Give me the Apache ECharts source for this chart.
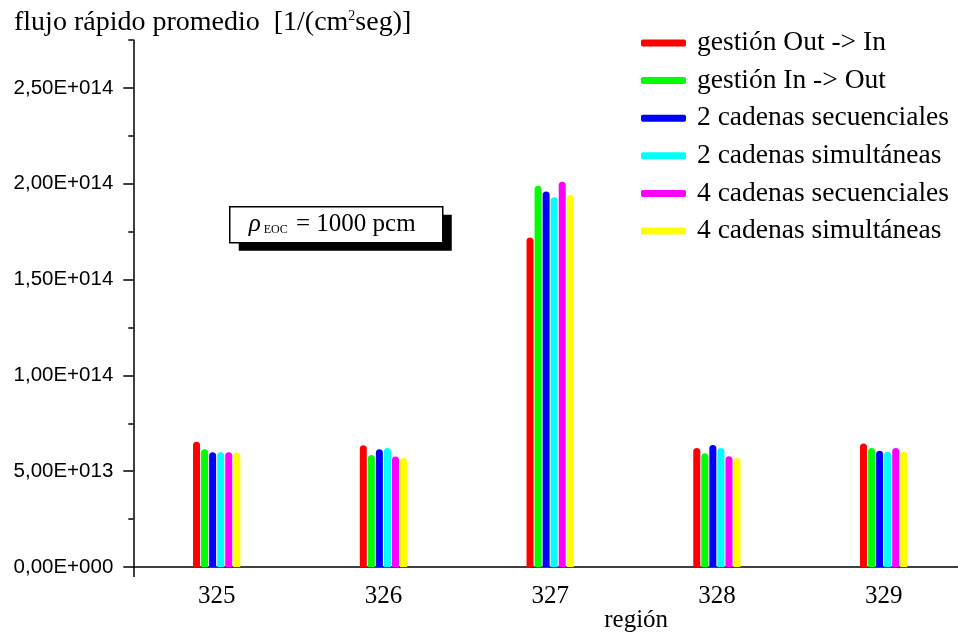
<!DOCTYPE html>
<html>
<head>
<meta charset="utf-8">
<script src="https://cdn.jsdelivr.net/npm/echarts@6/dist/echarts.min.js"></script>
<style>
html,body{margin:0;padding:0;background:#fff;}
#chart{width:958px;height:632px;}
</style>
</head>
<body>
<div id="chart"></div>
<script>
const categories = ['325', '326', '327', '328', '329'];
const seriesNames = ['gestión Out -> In', 'gestión In -> Out', '2 cadenas secuenciales', '2 cadenas simultáneas', '4 cadenas secuenciales', '4 cadenas simultáneas'];
const outIn    = [6.54e13, 6.35e13, 1.72e14, 6.21e13, 6.44e13];
const inOut    = [6.15e13, 5.85e13, 1.99e14, 5.94e13, 6.21e13];
const sec2     = [5.99e13, 6.15e13, 1.96e14, 6.37e13, 6.07e13];
const sim2     = [5.99e13, 6.21e13, 1.93e14, 6.21e13, 6.01e13];
const sec4     = [5.99e13, 5.76e13, 2.01e14, 5.78e13, 6.21e13];
const sim4     = [5.97e13, 5.69e13, 1.94e14, 5.69e13, 6.01e13];
const colors = ['#ff0000', '#00ff00', '#0000ff', '#00ffff', '#ff00ff', '#ffff00'];
const allValues = [outIn, inOut, sec2, sim2, sec4, sim4];
const yTickValues = [0, 5e13, 1e14, 1.5e14, 2e14, 2.5e14];
const yMinorTickValues = [2.5e13, 7.5e13, 1.25e14, 1.75e14, 2.25e14, 2.75e14];

function fmt(v) {
  if (v === 0) return '0,00E+000';
  const e = Math.floor(Math.log10(Math.abs(v)) + 1e-9);
  const m = v / Math.pow(10, e);
  return m.toFixed(2).replace('.', ',') + 'E+' + String(e).padStart(3, '0');
}

const chart = echarts.init(document.getElementById('chart'), null, {renderer: 'canvas'});
const serif = '"Liberation Serif", "Times New Roman", serif';
const sans = '"Liberation Sans", Arial, sans-serif';

const option = {
  backgroundColor: '#fff',
  animation: false,
  title: {
    text: '{t|flujo rápido promedio  [1/(cm}{s|2}{t|seg)]}',
    left: 9, top: 4,
    textStyle: {
      fontWeight: 'normal',
      rich: {
        t: {fontFamily: serif, fontSize: 28, fontWeight: 'normal', color: '#000'},
        s: {fontFamily: serif, fontSize: 14, fontWeight: 'normal', color: '#000', padding: [0, 0, 14, 0]}
      }
    }
  },
  legend: {
    orient: 'vertical',
    left: 636, top: 24,
    itemWidth: 45, itemHeight: 7,
    itemGap: 9.6,
    icon: 'roundRect',
    textStyle: {fontFamily: serif, fontSize: 27.5, color: '#000', lineHeight: 28, padding: [0, 0, 0, 6]},
    data: seriesNames
  },
  grid: {left: 133.3, top: 40, right: -9, bottom: 65, containLabel: false, outerBoundsMode: 'none'},
  xAxis: [{
    type: 'category',
    data: categories,
    boundaryGap: true,
    axisLine: {lineStyle: {color: '#000', width: 1.5}},
    axisTick: {alignWithLabel: true, length: 10, inside: false, lineStyle: {color: '#000', width: 1.5}},
    axisLabel: {fontFamily: serif, fontSize: 25, color: '#000', margin: 17},
    splitLine: {show: false},
    name: 'región',
    nameLocation: 'middle',
    nameGap: 41,
    nameMoveOverlap: false,
    nameTextStyle: {fontFamily: serif, fontSize: 25, color: '#000', padding: [0, 0, 0, 172]}
  }, {
    type: 'category',
    data: categories,
    position: 'bottom',
    boundaryGap: true,
    axisLine: {show: false},
    axisTick: {show: true, alignWithLabel: false, length: 10, interval: function (idx) { return idx === 0; }, lineStyle: {color: '#000', width: 1.5}},
    axisLabel: {show: false},
    splitLine: {show: false}
  }],
  yAxis: [{
    type: 'value',
    min: 0, max: 2.75e14, interval: 5e13,
    axisLine: {show: true, lineStyle: {color: '#000', width: 1.5}},
    axisTick: {show: true, length: 10, lineStyle: {color: '#000', width: 1.5}, customValues: yTickValues},
    axisLabel: {fontFamily: sans, fontSize: 20.5, color: '#000', margin: 20, formatter: fmt, customValues: yTickValues},
    splitLine: {show: false}
  }, {
    type: 'value',
    position: 'left',
    min: 0, max: 2.75e14, interval: 2.5e13,
    axisLine: {show: false},
    axisTick: {show: true, length: 5, lineStyle: {color: '#000', width: 1.5}, customValues: yMinorTickValues},
    axisLabel: {show: false},
    splitLine: {show: false}
  }],
  series: seriesNames.map((name, i) => ({
    name: name,
    type: 'bar',
    xAxisIndex: 0,
    yAxisIndex: 0,
    data: allValues[i],
    barWidth: 7,
    barGap: '15%',
    itemStyle: {color: colors[i], borderRadius: [3.5, 3.5, 0, 0]},
    emphasis: {disabled: true}
  })),
  graphic: [{
    type: 'group',
    left: 229, top: 206,
    children: [
      {type: 'rect', shape: {x: 9, y: 8, width: 213, height: 36}, style: {fill: '#000'}},
      {type: 'rect', shape: {x: 0, y: 0, width: 213, height: 36}, style: {fill: '#fff', stroke: '#000', lineWidth: 1.5}},
      {type: 'text', x: 19, y: 18, style: {
        text: '{r|ρ}{sub|EOC}{t| = 1000 pcm}',
        verticalAlign: 'middle',
        rich: {
          r: {fontFamily: serif, fontStyle: 'italic', fontSize: 25, fill: '#000'},
          sub: {fontFamily: serif, fontSize: 12, fill: '#000', padding: [10, 2, 0, 3]},
          t: {fontFamily: serif, fontSize: 25, fill: '#000'}
        }
      }}
    ]
  }]
};
chart.setOption(option);
</script>
</body>
</html>
